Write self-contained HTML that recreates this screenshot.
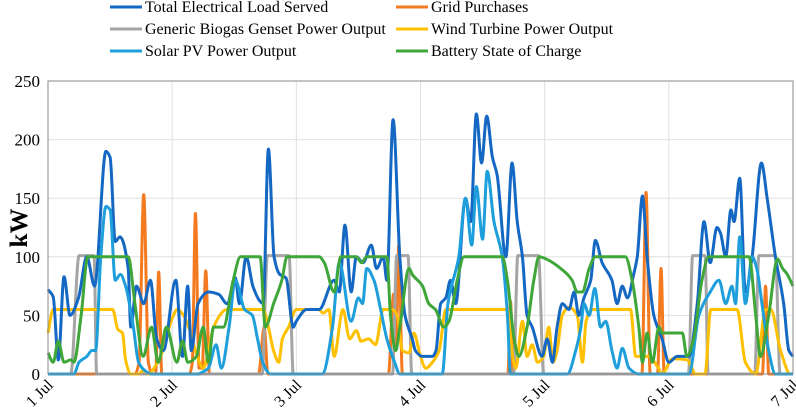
<!DOCTYPE html>
<html><head><meta charset="utf-8">
<style>
body{margin:0;background:#fff;}
svg{display:block;font-family:"Liberation Serif",serif;}
</style></head>
<body>
<svg id="chart" width="796" height="417" viewBox="0 0 796 417" xmlns="http://www.w3.org/2000/svg">
<g id="grid"></g>
<g id="series"></g>
<g id="axes"></g>
<text transform="translate(27,228) rotate(-90)" text-anchor="middle" font-size="25" font-weight="bold">kW</text>
<g id="legend"></g>
</svg>
<script>
const yTicks=[0,50,100,150,200,250];
const dayLabels=["1 Jul","2 Jul","3 Jul","4 Jul","5 Jul","6 Jul","7 Jul"];
const seriesNames=["Total Electrical Load Served","Grid Purchases","Generic Biogas Genset Power Output","Wind Turbine Power Output","Solar PV Power Output","Battery State of Charge"];
const seriesColors=["#1467c2","#f47a20","#a5a5a5","#ffc000","#1e9fdc","#3fa63a"];
// [hour, kW]
const loadData=[[0,72],[1,66],[2,12],[3.1,83],[4.25,50],[5.9,65],[7.5,100],[9,75],[11.2,190],[12,185],[13,113],[13.9,117],[15.5,90],[16,40],[17.1,75],[18.5,60],[19.8,80],[21,30],[22.3,20],[24.7,80],[26,15],[27,75],[27.7,20],[29,60],[31,70],[33,68],[34.6,60],[36.2,82],[37,60],[38.3,100],[39.6,75],[41,62],[41.6,60],[42.6,192],[43.7,100],[44.8,85],[46,82],[47.4,40],[48,45],[50,55],[52.4,55],[55.3,80],[56.3,70],[57.4,127],[58.6,70],[59.6,100],[60.9,95],[62.5,110],[63.5,90],[64.8,100],[65.5,80],[66.7,217],[68,100],[69,50],[70.4,30],[71,20],[72.4,15],[74.3,15],[75,20],[75.9,60],[76.9,65],[77.8,80],[78.8,60],[80.7,150],[81.7,130],[82.8,222],[83.8,180],[84.8,220],[85.9,185],[86.8,170],[88.5,100],[89.7,180],[90.7,130],[91.7,100],[92.6,50],[93.6,40],[95.5,15],[96.5,30],[97.5,10],[98.4,40],[99.4,60],[100.7,55],[101.7,70],[102.6,50],[103.6,65],[104.9,80],[105.8,114],[107.1,95],[109,80],[110,60],[111,75],[112,65],[113.2,85],[113.9,100],[114.9,152],[115.8,100],[117.1,50],[118.7,30],[120,10],[121.6,15],[123.9,15],[125.5,60],[126.8,130],[128,95],[129.3,125],[130,120],[131,100],[132,140],[132.6,130],[133.7,167],[134.8,70],[136.1,100],[137.9,180],[139,150],[140.6,100],[142.2,60],[143.2,20],[144,15]];
const gridData=[[0,0],[16.8,0],[17.6,10],[18.5,153],[19.4,10],[20.2,0],[20.8,0],[21.4,87],[22,0],[27.3,0],[27.9,10],[28.5,137],[29.2,5],[29.8,5],[30.5,88],[31.2,0],[40.7,0],[41.8,40],[42.5,0],[65.8,0],[66.8,68],[67.3,25],[67.8,110],[68.5,0],[88.9,0],[89.4,62],[89.9,0],[114.8,0],[115.6,155],[116.4,0],[117.8,0],[118.5,90],[119.1,0],[138.1,0],[138.7,75],[139.3,0],[144,0]];
const gensetData=[[0,0],[4.4,0],[6,101],[8.9,101],[9.4,0],[41.4,0],[42.4,101],[46.6,101],[47.4,0],[66.6,0],[67.4,101],[69.6,101],[70.3,0],[90,0],[90.8,101],[94.8,101],[95.8,0],[123.8,0],[124.6,101],[127,101],[127.6,0],[136.6,0],[137.4,101],[140.6,101],[141.5,0],[144,0]];
const windData=[[0,35],[1,55],[6,55],[12.5,55],[13.5,38],[14.4,35],[15,12],[16,0],[17.6,0],[18.3,3],[19.5,0],[20.5,5],[22.2,20],[23.8,45],[25,55],[26.2,50],[27.2,40],[28.5,20],[30,5],[30.8,15],[32,40],[34.6,55],[41.6,55],[42.6,40],[43.6,20],[44.6,10],[45.3,30],[46.5,40],[48,55],[52.3,55],[53.2,52],[54.3,55],[55.3,15],[57,55],[58.3,30],[59.6,37],[60.5,28],[62,30],[63.3,25],[64.8,55],[66.5,55],[67.5,50],[68.5,20],[69.8,18],[70.7,35],[72,15],[73,5],[74.3,10],[75.6,20],[76.9,55],[88.8,55],[89.8,15],[90.4,5],[91.7,45],[92.6,15],[93.6,25],[94.6,10],[95.8,15],[96.8,40],[97.6,10],[98.4,20],[99.4,50],[100.7,57],[102.3,50],[103.3,10],[104,45],[105.2,55],[112.6,55],[113.6,15],[116,15],[118,5],[118.7,0],[120.7,13],[123.5,12],[124.5,5],[125,0],[127,0],[128.1,55],[133.2,55],[134.8,10],[136.8,0],[138.7,55],[139.7,55],[141.6,20],[143.5,0],[144,0]];
const solarData=[[0,0],[5,0],[6,10],[7.5,15],[8.5,20],[9.2,20],[10.2,100],[11.2,143],[12,140],[13,80],[14,85],[15,75],[16.5,40],[17.5,10],[19,2],[20,0],[29,0],[30,2],[31,5],[32.5,25],[33.5,5],[35,40],[36.2,80],[38,55],[39.5,50],[40.5,30],[41.5,10],[43,0],[53,0],[55,40],[56.3,95],[58.6,45],[60,65],[60.8,60],[61.6,90],[63,80],[64.3,55],[65.5,30],[67,10],[68,0],[76.2,0],[77.3,60],[79.4,100],[80.7,150],[81.9,110],[82.8,160],[84,115],[84.9,173],[86.2,130],[87.8,100],[88.8,50],[89.4,0],[100.4,0],[102,20],[103,40],[103.6,60],[104.6,50],[105.7,73],[106.8,40],[107.8,45],[109,20],[110,5],[111,22],[112.3,5],[114.2,0],[123.9,0],[125.8,50],[128,70],[129.7,80],[131,60],[132.2,75],[132.9,60],[133.7,117],[134.8,60],[136.1,100],[137,90],[138,60],[139.3,20],[140.6,0],[144,0]];
const batteryData=[[0,18],[1,10],[2,28],[3.1,10],[4.4,12],[5,10],[6.4,50],[7.7,100],[15.5,100],[16.8,60],[18.4,15],[20,40],[21.3,10],[22.9,40],[24.9,10],[26,28],[27,10],[28.7,15],[30,40],[31,10],[32,40],[33.9,40],[35.8,80],[37.2,100],[41,100],[42,40],[43.6,60],[45.2,80],[46.2,100],[52.4,100],[53.4,95],[55.3,70],[56.6,100],[59.6,100],[60.6,95],[61.6,100],[65.5,100],[66.2,50],[67.2,20],[68,40],[69.8,90],[70.4,85],[72.4,75],[73.6,60],[74.9,55],[76.5,40],[77.5,45],[79.1,80],[80.4,100],[87.8,100],[88.8,80],[90.1,30],[91,15],[92.6,40],[93.9,80],[94.9,100],[96.8,97],[99.1,90],[100.4,85],[101.3,80],[102.3,70],[103.3,70],[104.6,90],[105.8,100],[111.6,100],[112.9,80],[114.2,40],[114.9,10],[115.8,35],[116.8,10],[118.1,40],[118.7,35],[122.6,35],[123.5,15],[124.8,30],[126.4,80],[127.7,100],[135.5,100],[136.8,50],[137.7,15],[139.3,50],[141,98],[142,90],[142.9,85],[144,75]];

const NS="http://www.w3.org/2000/svg";
const X0=48,X1=793,Y0=374,Y1=81,HMAX=144,VMAX=250;
function xs(h){return X0+(X1-X0)*h/HMAX;}
function ys(v){return Y0-(Y0-Y1)*v/VMAX;}
function mk(tag,attrs,parent){const e=document.createElementNS(NS,tag);for(const k in attrs)e.setAttribute(k,attrs[k]);parent.appendChild(e);return e;}
const grid=document.getElementById('grid'),axes=document.getElementById('axes'),ser=document.getElementById('series'),leg=document.getElementById('legend');
yTicks.forEach(v=>{
  if(v>0){const l=mk('line',{x1:X0,x2:X1,y1:ys(v),y2:ys(v),stroke:'#e0e0e0','stroke-width':1},grid);
  
  }
  const t=mk('text',{x:40,y:ys(v)+6,'text-anchor':'end','font-size':17,fill:'#000'},axes);
  t.textContent=v;
  
  
});
dayLabels.forEach((d,i)=>{
  const x=xs(i*24);
  if(i>0&&i<6){const l=mk('line',{x1:x,x2:x,y1:Y1,y2:Y0,stroke:'#e0e0e0','stroke-width':1},grid);
  
  }
  const t=mk('text',{x:0,y:0,'text-anchor':'end','font-size':16,transform:`translate(${x+6},${Y0+12}) rotate(-45)`},axes);
  t.textContent=d;
  
  
});
const frame=mk('rect',{x:X0,y:Y1,width:X1-X0,height:Y0-Y1,fill:'none',stroke:'#8a8a8a','stroke-width':1},axes);


// monotone cubic (no overshoot)
function smooth(data){
  const p=data.map(d=>[xs(d[0]),ys(d[1])]);
  const n=p.length,dx=[],sl=[],m=[];
  for(let i=0;i<n-1;i++){dx[i]=p[i+1][0]-p[i][0];sl[i]=(p[i+1][1]-p[i][1])/dx[i];}
  m[0]=sl[0];m[n-1]=sl[n-2];
  for(let i=1;i<n-1;i++){
    if(sl[i-1]*sl[i]<=0)m[i]=0;
    else{const w1=2*dx[i]+dx[i-1],w2=dx[i]+2*dx[i-1];m[i]=(w1+w2)/(w1/sl[i-1]+w2/sl[i]);}
  }
  let s=`M${p[0][0]},${p[0][1]}`;
  for(let i=0;i<n-1;i++){
    const h=dx[i]/3;
    s+=`C${p[i][0]+h},${p[i][1]+m[i]*h} ${p[i+1][0]-h},${p[i+1][1]-m[i+1]*h} ${p[i+1][0]},${p[i+1][1]}`;
  }
  return s;
}
const order=[[gridData,1,'grid-purchases-line'],[gensetData,2,'genset-output-line'],[windData,3,'wind-output-line'],[loadData,0,'load-served-line'],[solarData,4,'solar-output-line'],[batteryData,5,'battery-soc-line']];
order.forEach(([d,ci,n])=>{
  const p=mk('path',{d:smooth(d),fill:'none',stroke:seriesColors[ci],'stroke-width':3,'stroke-linejoin':'round'},ser);
  
  
});
seriesNames.forEach((n,i)=>{
  const col=i%2,row=Math.floor(i/2);
  const lx=col?396:110,ly=7+row*22;
  const g=mk('g',{},leg);
  
  
  mk('line',{x1:lx,x2:lx+32,y1:ly,y2:ly,stroke:seriesColors[i],'stroke-width':3},g);
  const t=mk('text',{x:lx+35,y:ly+5,'font-size':16},g);
  t.textContent=n;
});
</script>
</body></html>
